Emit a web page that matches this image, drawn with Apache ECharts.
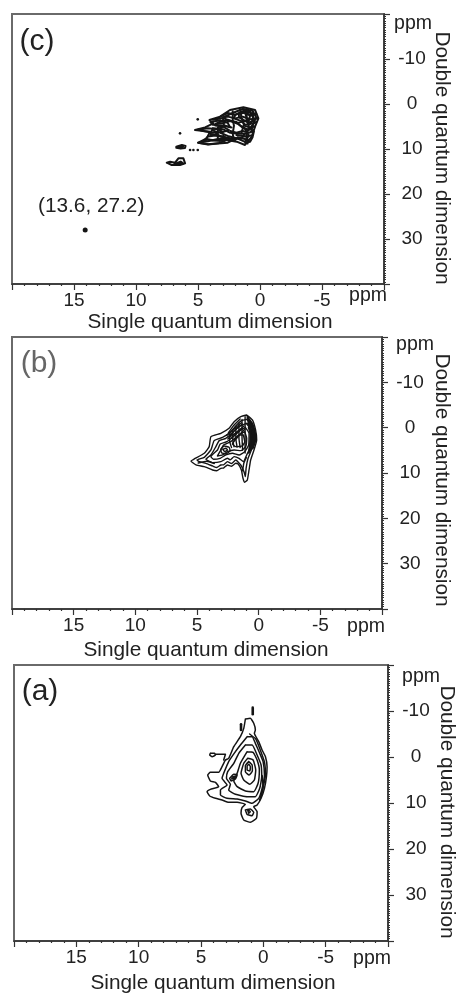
<!DOCTYPE html>
<html><head><meta charset="utf-8">
<style>html,body{margin:0;padding:0;background:#fff}#c{width:458px;height:996px}</style>
<script src="https://cdn.jsdelivr.net/npm/echarts@6/dist/echarts.min.js"></script>
</head><body><div id="c"></div>
<script>
const xTickStep = 5, yTickStep = 10;
const singleQuantumRange = [-10, 20];
const doubleQuantumRange = [-20, 40];

// Contours as [single quantum ppm, double quantum ppm]
const contoursC = [
 [[2.42,1.33],[1.34,.74],[.4,1.33],[.13,3.19],[.4,5.04],[.67,7.26],[1.21,9.11],[1.88,8.37],[2.68,8],[3.36,8.74],[4.16,8.96],[4.97,8.59],[4.3,7.63],[4.03,6.15],[5.24,5.78],[4.43,5.19],[3.76,4.3],[4.08,3.56],[3.22,2.82],[2.42,1.33]],
 [[2.2,2],[1.4,1.1],[.6,1.5],[.3,3],[.6,4.6],[.9,5.8],[1.5,5],[1.9,4],[2.6,3.6],[3,3],[2.2,2]],
 [[2,2.4],[1.3,1.5],[.8,1.9],[.5,3.2],[.8,4.5],[1.2,4.6],[1.5,3.8],[2.1,3.2],[2,2.4]],
 [[1.7,2.2],[1.2,1.9],[.8,2.6],[.9,3.7],[1.3,3.6],[1.7,2.9],[1.7,2.2]],
 [[1.3,1.2],[.8,1.7],[.6,2.5],[.5,3.7],[1,4.2],[1.1,2.8],[1.3,1.2]],
 [[3.4,4.1],[2.6,3.5],[1.8,4.4],[1.2,5.6],[.9,7],[1.2,8.4],[1.9,7.6],[2.6,7.1],[3.2,6.4],[2.5,5.8],[3,5],[3.6,4.8],[3.4,4.1]],
 [[3.8,5.4],[3,5.6],[2.4,6.4],[1.8,6.6],[1.2,6.6],[1.5,7.7],[2.4,7.6],[3.2,7.2],[4,6.6],[3.8,5.4]],
 [[5,5.7],[4.2,5.4],[3.4,5.6],[3,6.2],[3.8,6.4],[4.6,6],[5,5.7]],
 [[5,8.6],[4.2,8.3],[3.4,7.8],[2.8,7.8],[2.2,8],[2.6,8.6],[3.4,8.8],[4.2,9],[5,8.6]],
 [[4.2,7.2],[3.6,7],[2.8,7.4],[3,8],[3.8,8.1],[4.4,7.8],[4.2,7.2]],
 [[4,4],[3.2,3.6],[2.6,4.2],[2.4,5.2],[3,4.8],[3.8,4.6],[4,4]],
 [[1.2,8.6],[.8,8.4],[.6,7.4],[.5,6.2],[.8,5.4]],
 [[3.2,2.8],[2.6,2],[2,2.4],[1.4,1.8],[.8,2.4],[.3,2.2]],
 [[3.8,3.5],[3.2,3.2],[2.6,2.8],[2,3.2],[1.4,2.8],[.8,3.4],[.2,3.2]],
 [[3.6,4.4],[2.9,4.2],[2.4,3.8],[1.8,4.2],[1.2,3.8],[.6,4.4],[.3,4]],
 [[3.4,5.2],[2.8,4.8],[2.3,5.2]],
 [[1.3,4.8],[.8,5.2],[.4,5]],
 [[3.8,5.9],[3.4,6.3],[3.6,6.8]],
 [[2.4,6],[1.9,6.4],[1.4,6],[.9,6.4],[.5,6]],
 [[4,6.9],[3.4,6.9],[3,7.3],[2.9,6.8]],
 [[1.9,6.9],[1.2,7.2],[.7,7]],
 [[4.6,8.2],[4.2,7.9],[3.2,8.2],[2.8,7.8],[2,8],[1.8,7.4],[.9,8]],
 [[1,1.4],[1.1,3],[.9,5],[1.1,7],[1,8.8]],
 [[1.6,1.2],[1.5,3],[1.3,4.5],[1.5,6.5]],
 [[2.2,1.6],[2.2,3.6],[2.1,4.8],[2.2,6.6],[2.1,8.2]],
 [[3,3],[2.9,4.8],[3.4,5.8],[3.4,7.8]],
 [[.6,2],[.5,4],[.7,6]],
 [[6.75,9.5],[6.3,9.1],[6,9.3],[6.05,9.8],[6.4,9.9],[6.75,9.7],[6.75,9.5]],
 [[6.6,9.5],[6.2,9.5],[6.4,9.7],[6.6,9.5]],
 [[7.52,13.04],[7.25,12.82],[6.85,13.04],[6.58,12.07],[6.18,12.07],[6.04,13.19],[6.45,13.56],[7.12,13.56],[7.52,13.04]],
 [[6.9,13.3],[6.4,12.8],[6.2,13.2],[6.6,13.3],[6.9,13.3]]
];
const dotsC = [[5.02,3.41],[6.45,6.52],[5.64,10.22],[5.37,10.22],[5.02,10.22]];
const assignedPeakC = [[14.1,28]];
const peakLabelC = '(13.6, 27.2)';

const contoursB = [
 [[.97,-2.8],[.51,-1.7],[.25,.51],[.16,2.71],[.38,4.92],[.65,7.13],[.78,9.33],[.92,11.54],[1.13,12.05],[1.27,11.17],[1.4,9.33],[1.66,8],[1.86,7.86],[2.2,8.5],[2.53,8.23],[2.85,8.9],[3.07,8.96],[3.4,9.5],[3.74,9.33],[4.41,8.6],[5.08,8.23],[5.49,7.35],[5.22,6.9],[4.41,5.65],[4.01,4.18],[3.87,1.98],[3.07,1.24],[2.4,.14],[1.99,-1.33],[1.45,-2.43],[.97,-2.8]],
 [[.97,-1.84],[.65,-.96],[.43,.88],[.38,3.08],[.59,4.92],[.86,6.76],[1.02,8.96],[1.08,10.8],[1.19,9.7],[1.45,8.23],[1.86,7.13],[2.2,7.9],[2.53,7.49],[2.85,8.2],[3.07,8.23],[3.4,8.8],[3.74,8.45],[4.28,7.86],[4.82,7.49],[5,7.13],[4.41,6.54],[3.87,4.92],[3.61,2.86],[2.93,2.13],[2.31,1.1],[1.86,-.37],[1.4,-1.55],[.97,-1.84]],
 [[1.02,-.96],[.7,.14],[.57,1.98],[.65,4.18],[.97,6.02],[1.24,7.49],[1.59,6.76],[1.99,6.39],[2.3,7.1],[2.53,6.76],[3.07,7.49],[3.74,7.71],[4.28,6.98],[3.87,6.02],[3.47,4.18],[3.2,2.86],[2.66,2.35],[2.13,1.1],[1.59,-.23],[1.02,-.96]],
 [[1.08,-.08],[.78,1.24],[.81,3.82],[1.13,5.29],[1.59,6.02],[2.13,5.65],[2.66,6.02],[3.12,6.76],[3.66,6.98],[3.87,6.39],[3.34,4.92],[3.12,3.6],[2.58,3.08],[1.99,1.83],[1.51,.65],[1.08,-.08]],
 [[1.13,.88],[.97,2.35],[1.05,4.18],[1.45,5.07],[1.99,4.92],[2.53,5.29],[2.93,6.02],[3.34,6.24],[3.07,4.92],[2.85,3.82],[2.26,3.08],[1.72,1.83],[1.13,.88]],
 [[3.07,4.77],[2.8,4.04],[2.4,4.33],[2.31,5.07],[2.66,5.8],[3.01,5.51],[3.07,4.77]],
 [[2.91,4.77],[2.66,4.55],[2.53,4.92],[2.75,5.29],[2.91,4.77]],
 [[1.24,1.61],[1.13,3.08],[1.32,4.04],[1.86,4.18],[2.13,3.6],[1.86,2.57],[1.51,1.61],[1.24,1.61]],
 [[2.31,1.83],[1.86,.36],[1.32,-.82]],
 [[2.21,2.35],[1.72,.88],[1.19,-.37]],
 [[1.99,2.71],[1.59,1.61],[1.13,.36]],
 [[2.45,1.1],[2.05,-.4],[1.5,-1.9]],
 [[2.6,1.7],[2,.3],[1.4,-1.1]],
 [[2.5,2.5],[2.4,2.2],[1.8,1],[1.3,.1]],
 [[2.35,1.2],[2.35,3],[2.2,4.4]],
 [[2.1,.4],[2.1,2.6],[2,4.2]],
 [[1.85,-.2],[1.85,2.4],[1.75,4.3]],
 [[1.6,-1],[1.6,2.2],[1.5,4.4]],
 [[1.35,-1.8],[1.35,2],[1.3,5]],
 [[1.1,-2.4],[1.1,1.8],[1.1,5.6]],
 [[4.9,7.8],[4.2,7.4],[3.6,7.9]],
 [[1.3,9.5],[1.2,7.8],[1,6.6]]
];
const denseEdgeB = [
 [[.86,-2.07],[.51,-.82],[.3,1.24],[.27,2.71],[.49,4.55]],
 [[.86,-1.55],[.57,-.37],[.41,1.24],[.38,2.71],[.54,4.18]],
 [[.86,-.96],[.65,.14],[.49,1.61],[.46,3.08],[.65,4.92]],
 [[.8,0],[.62,1.5],[.54,3],[.57,4.5]],
 [[.9,-2.4],[.72,-.8],[.66,1.5],[.7,3.8],[.8,5.5]]
];

const contoursA = [
 [[1.44,-8.26],[1.04,-8.41],[.77,-7.32],[.64,-5.87],[.72,-5.15],[.37,-3.33],[.1,-1.52],[-.17,-.07],[-.3,2.1],[-.25,4.27],[-.09,6.81],[.18,8.98],[.5,10.43],[.77,10.8],[.5,11.88],[.56,13.33],[1.04,14.2],[1.57,13.69],[1.79,12.24],[1.71,11.01],[1.44,10.29],[2.1,9.85],[2.78,9.85],[3.31,9.35],[3.84,8.98],[4.3,8.48],[4.51,7.53],[4.25,7.03],[3.58,6.45],[3.84,5.5],[4.25,5.2],[4.46,3.91],[4.25,3.33],[3.58,3.33],[3.31,2.1],[3.04,.65],[2.78,.29],[2.37,-2.25],[1.84,-4.42],[1.57,-6.23],[1.44,-8.26]],
 [[1.3,-4.42],[.9,-4.42],[.64,-2.97],[.29,-.8],[.02,1],[-.09,3.91],[.1,6.81],[.37,8.98],[.9,10.07],[1.44,9.56],[2.1,9.13],[2.91,8.98],[3.44,8.26],[3.44,7.17],[2.91,6.08],[3.31,4.64],[3.18,3.55],[2.78,1],[2.24,-1.16],[1.84,-2.61],[1.3,-4.42]],
 [[1.44,-2.61],[.9,-2.61],[.5,-.44],[.18,1.74],[.13,4.27],[.29,6.81],[.64,8.62],[1.3,8.62],[2.24,8.11],[2.78,7.17],[2.64,5.94],[2.96,4.64],[2.86,3.19],[2.37,1.37],[1.97,-.8],[1.44,-2.61]],
 [[1.3,-1.16],[.82,-1.02],[.5,.65],[.32,2.82],[.42,5.72],[.77,7.53],[1.44,7.39],[2.1,6.45],[2.37,5.2],[2.1,3.55],[1.84,1.37],[1.3,-1.16]],
 [[1.25,.29],[.82,.65],[.61,2.82],[.72,5],[1.09,5.94],[1.57,5],[1.79,3.55],[1.57,1.37],[1.25,.29]],
 [[1.17,1],[.9,1.74],[.88,3.04],[1.14,3.91],[1.44,3.19],[1.44,1.88],[1.17,1]],
 [[1.17,1.59],[1.04,2.1],[1.09,3.04],[1.3,2.82],[1.3,1.95],[1.17,1.59]],
 [[2.7,4.64],[2.37,3.77],[2.1,3.91],[2.24,4.78],[2.59,5.2],[2.7,4.64]],
 [[2.51,4.35],[2.29,4.2],[2.37,4.64],[2.53,4.78],[2.51,4.35]],
 [[1.44,11.52],[1.04,11.3],[.77,12.03],[.9,12.75],[1.3,12.46],[1.44,11.52]],
 [[1.25,11.52],[1.04,11.88],[1.17,12.24],[1.25,11.52]],
 [[4.25,-.8],[3.92,-.8],[3.84,-.44],[4.11,-.07],[4.3,-.44],[4.25,-.8]],
 [[3.84,-.58],[3.04,-.58],[3.18,.65]],
 [[1.1,-5],[.6,-3.9],[.2,-1.2],[-.1,1.2],[-.17,3.9],[.05,7],[.3,9.4]],
 [[.1,4],[.02,6.5],[.2,8.8]]
];
const tipsA = [[[.85,-10.73],[.85,-9.28]],[[1.79,-7.1],[1.79,-5.87]]];

const panels = [
 {letter:'(c)',letterColor:'#222',left:12,top:14,width:372,height:270,letterPos:[19,42],
  ppmTop:[394,24],ppmBottom:[349,296],xName:[210,322],yName:[442,158]},
 {letter:'(b)',letterColor:'#666',left:12,top:337,width:370,height:272,letterPos:[21,364],
  ppmTop:[396,345],ppmBottom:[347,627],xName:[206,650],yName:[442,480]},
 {letter:'(a)',letterColor:'#222',left:14,top:665,width:374,height:276,letterPos:[22,692],
  ppmTop:[402,677],ppmBottom:[353,959],xName:[213,983],yName:[447,812]}
];
const xName = 'Single quantum dimension', yName = 'Double quantum dimension', unit = 'ppm';
const ink = '#141414';

const grids = [], xAxes = [], yAxes = [], series = [], texts = [];
panels.forEach((p,i)=>{
  grids.push({left:p.left,top:p.top,width:p.width,height:p.height,show:true,borderColor:'#6a6a6a',borderWidth:2,backgroundColor:'#fff'});
  xAxes.push({type:'value',gridIndex:i,inverse:true,position:'bottom',min:singleQuantumRange[0],max:singleQuantumRange[1],interval:xTickStep,
    splitLine:{show:false},axisLine:{onZero:false,lineStyle:{color:'#333',width:1.5}},
    axisTick:{length:6,lineStyle:{color:'#333',width:1.2}},
    minorTick:{show:true,splitNumber:5,length:2,lineStyle:{color:'#333',width:1.2}},
    axisLabel:{margin:7,fontFamily:'Liberation Sans',fontSize:19,color:'#222',showMinLabel:false,showMaxLabel:false,hideOverlap:false}});
  yAxes.push({type:'value',gridIndex:i,inverse:true,position:'right',min:doubleQuantumRange[0],max:doubleQuantumRange[1],interval:yTickStep,
    splitLine:{show:false},axisLine:{onZero:false,lineStyle:{color:'#333',width:1.5}},
    axisTick:{length:6,lineStyle:{color:'#333',width:1.2}},
    minorTick:{show:true,splitNumber:20,length:2,lineStyle:{color:'#333',width:1.1}},
    axisLabel:{margin:28,align:'center',fontFamily:'Liberation Sans',fontSize:19,color:'#222',showMinLabel:false,showMaxLabel:false}});
  const t=(text,x,y,size,color,extra)=>texts.push(Object.assign({type:'text',x,y,silent:true,style:{text,fontFamily:'Liberation Sans',fontSize:size,fill:color,align:'center',verticalAlign:'middle'}},extra||{}));
  t(p.letter,p.letterPos[0]+18,p.letterPos[1],30,p.letterColor);
  t(unit,p.ppmTop[0]+19,p.ppmTop[1],19.5,'#222');
  t(unit,p.ppmBottom[0]+19,p.ppmBottom[1],19.5,'#222');
  t(xName,p.xName[0],p.xName[1],20.8,'#222');
  t(yName,p.yName[0],p.yName[1],20.8,'#222',{rotation:-Math.PI/2});
});
const addLines=(list,idx,width,smooth)=>list.forEach(d=>series.push({type:'line',xAxisIndex:idx,yAxisIndex:idx,data:d,symbol:'none',smooth,silent:true,animation:false,
  lineStyle:{color:ink,width,join:'round',cap:'round'}}));
addLines(contoursC,0,2,false);
addLines(contoursB,1,1.4,0.15);
addLines(denseEdgeB,1,2.2,0.15);
addLines(contoursA,2,1.5,0.15);
addLines(tipsA,2,2.6,false);
series.push({type:'scatter',xAxisIndex:0,yAxisIndex:0,data:dotsC,symbolSize:2.6,itemStyle:{color:ink,opacity:1},animation:false,silent:true});
series.push({type:'scatter',xAxisIndex:0,yAxisIndex:0,data:assignedPeakC,symbolSize:5,itemStyle:{color:ink,opacity:1},animation:false,silent:true,
  label:{show:true,position:'top',distance:11,offset:[6,0],formatter:peakLabelC,fontFamily:'Liberation Sans',fontSize:20.8,color:'#222',opacity:1,textBorderWidth:0}});

const chart = echarts.init(document.getElementById('c'),null,{renderer:'canvas'});
chart.setOption({animation:false,backgroundColor:'#fff',grid:grids,xAxis:xAxes,yAxis:yAxes,series,graphic:{elements:texts}});
</script></body></html>
